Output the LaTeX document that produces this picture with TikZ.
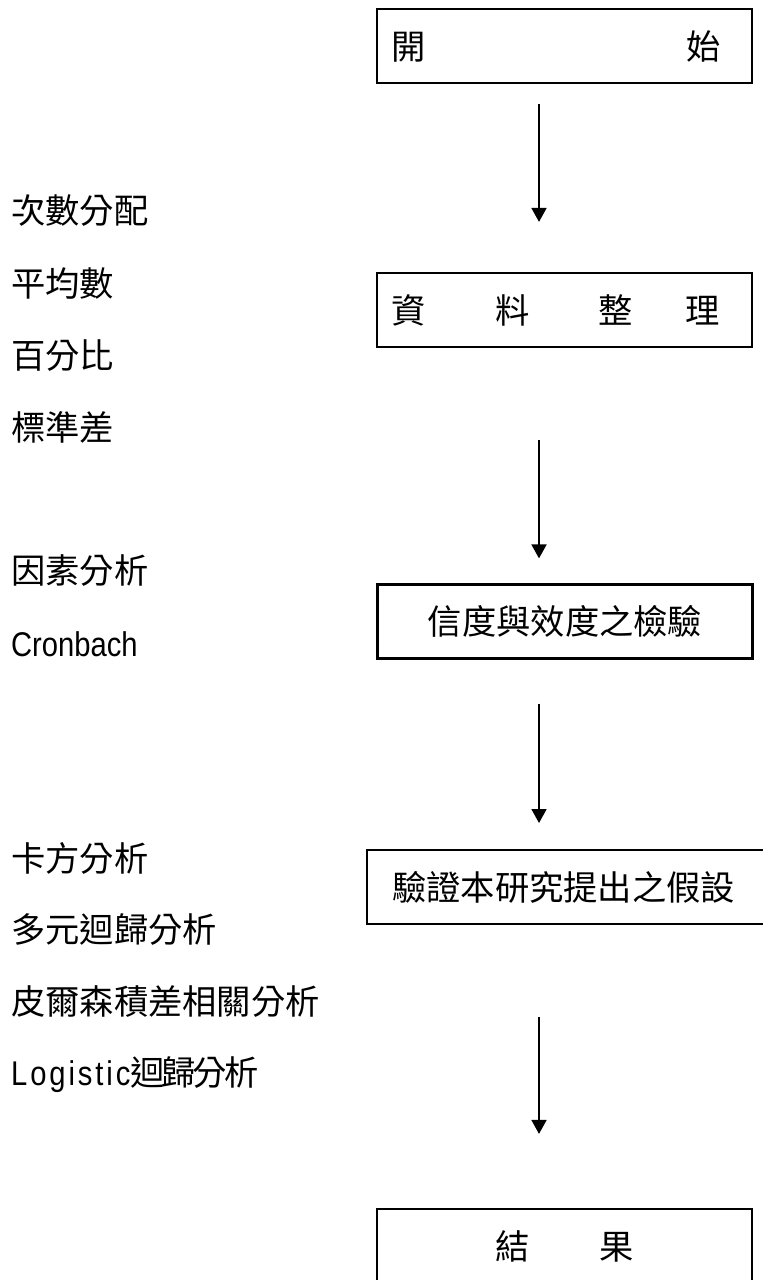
\documentclass[tikz,border=0pt]{standalone}
\usepackage{fontspec}
\setmainfont{Liberation Sans}
\newfontfamily\cjkfont{Noto Sans CJK TC}
\newfontfamily\cjktight{Noto Sans CJK TC}[LetterSpace=-9]
\newfontfamily\latinfont{Liberation Sans}[FakeStretch=0.85]
\newfontfamily\latinwide{Liberation Sans}[FakeStretch=0.85,LetterSpace=8.5]
\usetikzlibrary{arrows.meta}

\begin{document}
\begin{tikzpicture}[x=1pt,y=-1pt,
    font=\fontsize{34.3}{40}\selectfont\cjkfont,
    box/.style={draw, line width=2.2pt, text width=347pt, inner xsep=14pt, inner ysep=0pt, minimum height=74pt, align=left},
    note/.style={anchor=west, inner sep=0pt},
    flow/.style={line width=1.8pt, -{Triangle[length=14pt,width=15pt]}}]
    \useasboundingbox (0,0) rectangle (763,1280);
    \coordinate (axis) at (539,0);
    \node[box] (begin) at (564.5,46) {開\hspace{260.7pt}始};
    \node[box] (tidy) at (564.5,310) {資\hspace{69.7pt}料\hspace{69.7pt}整\hspace{52.7pt}理};
    \node[box, align=center] (check) at (565,621.5) {信度與效度之檢驗};
    \node[box, anchor=north west, text width=374pt, inner xsep=25pt] (test) at (366,849) {驗證本研究提出之假設};
    \node[box, align=center] (result) at (564.5,1246) {結\hspace{69.7pt}果};
    \draw[flow, shorten <=20pt, shorten >=50pt] (axis |- begin.south) -- (axis |- tidy.north);
    \draw[flow, shorten <=92pt, shorten >=25pt] (axis |- tidy.south) -- (axis |- check.north);
    \draw[flow, shorten <=44pt, shorten >=26pt] (axis |- check.south) -- (axis |- test.north);
    \draw[flow, shorten <=92pt, shorten >=74pt] (axis |- test.south) -- (axis |- result.north);
    \node[note] (freq) at (11,211) {次數分配};
    \node[note] (mean) at (11,283.5) {平均數};
    \node[note] (pct) at (11,356) {百分比};
    \node[note] (sd) at (11,427) {標準差};
    \node[note] (factor) at (11,571) {因素分析};
    \node[note, anchor=base west] (alpha) at (11,656) {\latinfont Cronbach};
    \node[note] (chi) at (11,858) {卡方分析};
    \node[note] (reg) at (11,930) {多元迴歸分析};
    \node[note] (pearson) at (11,1002) {皮爾森積差相關分析};
    \node[note, anchor=base west] (logit) at (11,1085) {{\latinwide Logistic}{\cjktight 迴歸分析}};
\end{tikzpicture}
\end{document}
